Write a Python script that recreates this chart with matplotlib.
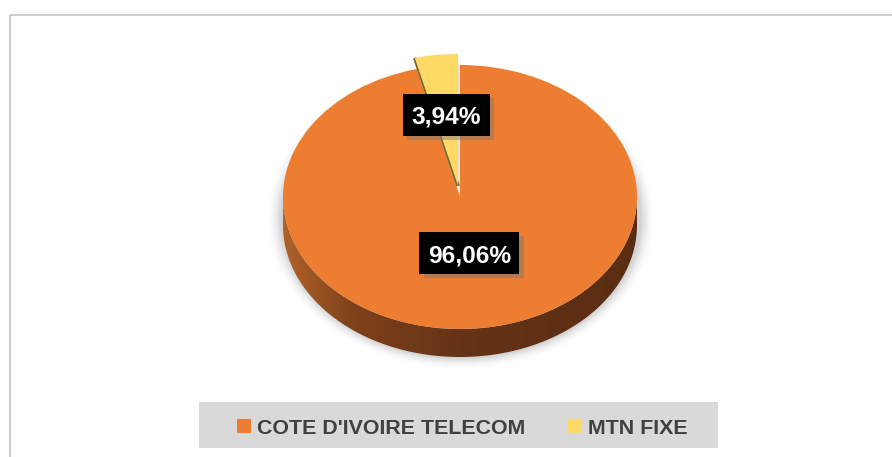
import numpy as np
import matplotlib
matplotlib.use("Agg")
import matplotlib.pyplot as plt
from matplotlib import font_manager as fm
from matplotlib import patheffects as pe
from matplotlib.patches import Rectangle, Polygon, Wedge
from matplotlib.transforms import Affine2D
from matplotlib.colors import LinearSegmentedColormap

# data
operators = ["COTE D'IVOIRE TELECOM", "MTN FIXE"]
shares = [96.06, 3.94]
colors = ["#ED7D31", "#FFD966"]

# narrow bold font if we have it, else plain Liberation Sans a bit smaller
names = {f.name for f in fm.fontManager.ttflist}
if "Liberation Sans Narrow" in names:
    font, k_lab, k_leg = "Liberation Sans Narrow", 1.0, 1.0
else:
    font, k_lab, k_leg = "Liberation Sans", 0.84, 0.855

W, H = 892, 457
fig = plt.figure(figsize=(W / 100, H / 100), dpi=100)
ax = fig.add_axes([0, 0, 1, 1])

# pie geometry in pixels (y grows downward)
cx, cy, rx, ry, depth = 460, 197, 177, 132, 28
pie_tf = Affine2D().scale(rx, -ry).translate(cx, cy)

wedges, _ = ax.pie(shares, colors=colors, startangle=90, counterclock=False,
                   explode=[0, 0.085], wedgeprops=dict(linewidth=0))
for w in wedges:
    w.set_transform(pie_tf + ax.transData)
    w.set_zorder(3)
wedges[1].set_zorder(3.2)

ax.set_aspect("auto")
ax.set_xlim(0, W)
ax.set_ylim(H, 0)
ax.axis("off")

# soft shadow under the pie
yy, xx = np.mgrid[0:H, 0:W] + 0.5
r = np.sqrt(((xx - 461) / 180) ** 2 + ((yy - 218) / 140) ** 2)
d = np.clip((r - 1) * 150, 0, None)
alpha = 0.38 * np.clip(1 - d / 13, 0, 1) ** 2
shadow = np.zeros((H, W, 4))
shadow[..., :3] = 0.55
shadow[..., 3] = alpha
ax.imshow(shadow, extent=(0, W, H, 0), aspect="auto", zorder=1)

# side wall of the pie with a left-to-right gradient
t = np.radians(np.linspace(180, 360, 240))
rim = pie_tf.transform(np.column_stack([np.cos(t), np.sin(t)]))
verts = np.vstack([rim, (rim + [0, depth])[::-1]])
side = Polygon(verts, closed=True, fc="none", ec="none")
ax.add_patch(side)
side_cmap = LinearSegmentedColormap.from_list(
    "side", [(0, "#B0612A"), (0.2, "#7E4119"), (0.5, "#653317"), (1, "#5A2D12")])
im = ax.imshow(np.linspace(0, 1, 256)[None, :], cmap=side_cmap, aspect="auto",
               extent=(cx - rx, cx + rx, cy + ry + depth, cy), zorder=2)
im.set_clip_path(side)

# gap left by the exploded slice + its dark side edge
small = wedges[1]
gap = Wedge((0, 0), 1, small.theta1, small.theta2, fc="#E4E4E4", ec="none",
            transform=pie_tf + ax.transData, zorder=2.9)
ax.add_patch(gap)
a2 = np.radians(small.theta2)
c = np.array(small.center)
edge = pie_tf.transform(np.array([c, c + [np.cos(a2), np.sin(a2)]]))
ax.plot(edge[:, 0], edge[:, 1], color="#7A6A2A", lw=2.6, zorder=3.1,
        solid_capstyle="butt")

# percentage labels in black boxes (box drawn by hand to get its height right)
renderer = fig.canvas.get_renderer()
label_dist = [0.43, 0.54]
fs = 21 * k_lab
cap = 0.716 * fs * 100 / 72
for w, val, dist in zip(wedges, shares, label_dist):
    mid = np.radians((w.theta1 + w.theta2) / 2)
    ux, uy = np.array(w.center) + dist * np.array([np.cos(mid), np.sin(mid)])
    px, py = pie_tf.transform((ux, uy))
    txt = ax.text(px, py + cap / 2, f"{val:.2f}%".replace(".", ","), ha="center",
                  va="baseline", color="white", fontsize=fs,
                  fontweight="bold", family=[font, "DejaVu Sans"], zorder=6)
    tw = txt.get_window_extent(renderer).width
    bw, bh = tw + 17, 42
    box = Rectangle((px - bw / 2, py - bh / 2), bw, bh, fc="black", ec="none", zorder=5)
    box.set_path_effects(
        [pe.SimplePatchShadow(offset=(3, -3), shadow_rgbFace="#777777", alpha=0.45),
         pe.Normal()])
    ax.add_patch(box)

# legend
ax.add_patch(Rectangle((199, 402), 519, 46, fc="#D9D9D9", ec="none", zorder=4))
leg_x = [237, 568]
for x0, name, w in zip(leg_x, operators, wedges):
    ax.add_patch(Rectangle((x0, 419), 14, 14, fc=w.get_facecolor(), ec="none", zorder=5))
    ax.text(x0 + 20, 434, name, ha="left", va="baseline", color="#404040",
            fontsize=18 * k_leg, fontweight="bold", family=[font, "DejaVu Sans"], zorder=5)

# chart frame (only top/left visible)
ax.add_patch(Rectangle((9.5, 14.5), W, H, fill=False, ec="#C8C8C8", lw=1.3, zorder=0))

ax.set_xlim(0, W)
ax.set_ylim(H, 0)

fig.savefig("out.png", dpi=100)
